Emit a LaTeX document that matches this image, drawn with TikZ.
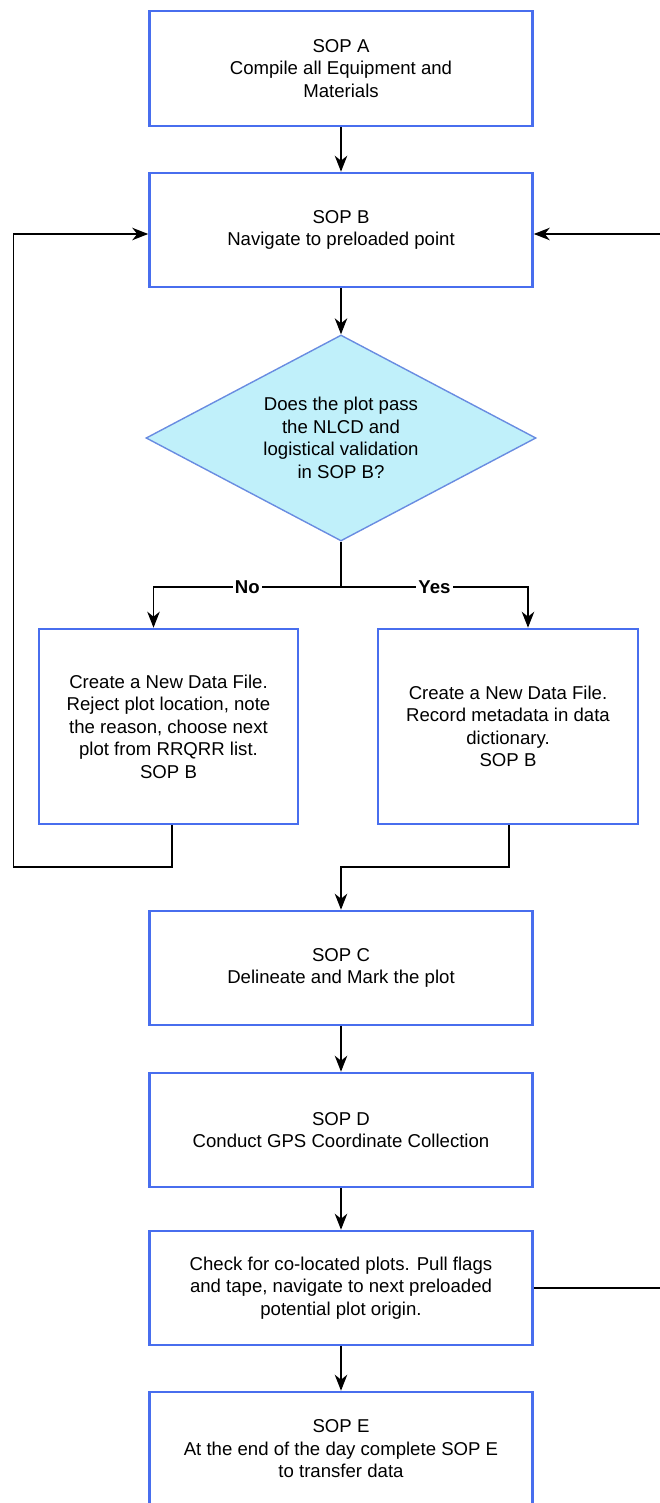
\documentclass[tikz,border=0pt]{standalone}
\usepackage{fontspec}
\setmainfont{Liberation Sans}
\usetikzlibrary{shapes.geometric,arrows.meta}

\definecolor{sopblue}{RGB}{72,110,238}
\definecolor{decblue}{RGB}{105,140,225}
\definecolor{decfill}{RGB}{192,240,250}

\tikzset{
  sopbox/.style={draw=sopblue, line width=2.6pt, fill=white, align=center,
    inner sep=0pt, minimum width=383pt, minimum height=114pt},
  decbox/.style={diamond, aspect=1.89, draw=decblue, line width=1.4pt,
    fill=decfill, align=center, inner sep=0pt, minimum width=390pt, minimum height=206pt},
  flow/.style={draw=black, line width=1.3pt, -{Stealth[length=16pt,width=12.5pt,inset=5pt]}},
  flowline/.style={draw=black, line width=1.3pt},
  answer/.style={fill=white, inner sep=2pt, font=\bfseries\fontsize{18.6}{22}\selectfont}
}

\begin{document}
\begin{tikzpicture}[x=1pt, y=-1pt, font=\fontsize{18.6}{22.5}\selectfont]
  \useasboundingbox (0,0) rectangle (660,1503);

  % Start of the day
  \node[sopbox, minimum height=115pt] (sopA) at (341,68.5) {SOP A\\Compile all Equipment and\\Materials};
  \node[sopbox] (sopB) at (341,230) {SOP B\\Navigate to preloaded point};

  % Validation question
  \node[decbox] (valid) at (341,438) {Does the plot pass\\the NLCD and\\logistical validation\\in SOP B?};

  % Outcomes of the check
  \node[sopbox, minimum width=259pt, minimum height=195pt] (reject) at (168.5,726.5)
    {Create a New Data File.\\Reject plot location, note\\the reason, choose next\\plot from RRQRR list.\\SOP B};
  \node[sopbox, minimum width=260pt, minimum height=195pt] (accept) at (508,726.5)
    {Create a New Data File.\\Record metadata in data\\dictionary.\\SOP B};

  % Work at the plot
  \node[sopbox] (sopC) at (341,968) {SOP C\\Delineate and Mark the plot};
  \node[sopbox] (sopD) at (341,1130) {SOP D\\Conduct GPS Coordinate Collection};
  \node[sopbox] (colocated) at (341,1288) {Check for co-located plots. Pull flags\\and tape, navigate to next preloaded\\potential plot origin.};
  \node[sopbox] (sopE) at (341,1449) {SOP E\\At the end of the day complete SOP E\\to transfer data};

  % Turning points of the connectors
  \coordinate (split) at (341,587);
  \coordinate (loopL) at (13.5,867);
  \coordinate (join) at (341,867);

  % Main line
  \draw[flow] (sopA) -- (sopB);
  \draw[flow] (sopB) -- (valid);
  \draw[flowline] (valid.south) -- (split);
  \draw[flow] (split) -| node[answer, pos=0.25] {No} ([xshift=-15pt]reject.north);
  \draw[flow] (split) -| node[answer, pos=0.25] {Yes} ([xshift=20pt]accept.north);

  % Rejected plot goes back to navigation
  \draw[flow] ([xshift=3.5pt]reject.south) |- (loopL) |- ([yshift=-4pt]sopB.west);

  % Accepted plot goes on
  \draw[flow] ([xshift=1pt]accept.south) |- (join) -- (sopC.north);
  \draw[flow] (sopC) -- (sopD);
  \draw[flow] (sopD) -- (colocated);
  \draw[flow] (colocated) -- (sopE);

  % Next preloaded point
  \draw[flow] (colocated.east) -- ++(135,0) |- ([yshift=-4pt]sopB.east);
\end{tikzpicture}
\end{document}
